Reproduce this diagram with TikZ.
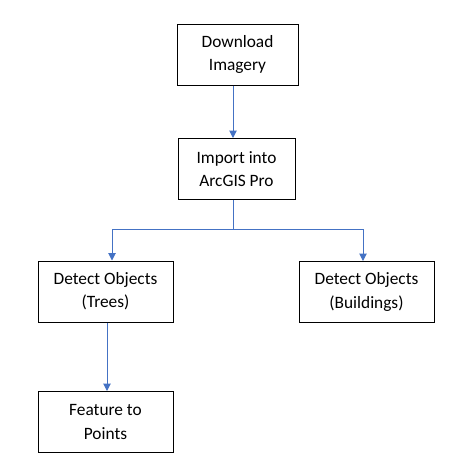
\documentclass[tikz,border=0pt]{standalone}
\usepackage{fontspec}
\setmainfont{Carlito}
\usetikzlibrary{arrows.meta}
\definecolor{arrowblue}{HTML}{4472C4}
\begin{document}
\begin{tikzpicture}[x=0.75pt,y=-0.75pt,
  box/.style={draw=black,line width=0.75pt,fill=white,minimum width=90.75pt,minimum height=45.75pt,inner sep=0pt,align=center,font=\fontsize{13pt}{17.5pt}\selectfont},
  wide/.style={minimum width=101.25pt},
  conn/.style={draw=arrowblue,line width=0.75pt},
  arr/.style={conn,-{Triangle[width=5.5pt,length=5.5pt]}}]
\useasboundingbox (0,0) rectangle (450,468);
\node[box] (dl) at (237.5,54.5) {Download\\Imagery};
\node[box,minimum width=87.75pt] (imp) at (236.5,169) {Import into\\ArcGIS Pro};
\node[box,wide] (trees) at (105.5,291.5) {Detect Objects\\(Trees)};
\node[box,wide] (bld) at (366.5,292) {Detect Objects\\(Buildings)};
\node[box,wide] (fp) at (105.5,422) {Feature to\\Points};
\coordinate (split) at (233,229);
\draw[arr] (dl.south -| 233,0) -- (imp.north -| 233,0);
\draw[conn] (imp.south -| split) -- (split);
\draw[arr] (split) -| (112,0 |- trees.north);
\draw[arr] (split) -| (363,0 |- bld.north);
\draw[arr] (107,0 |- trees.south) -- (107,0 |- fp.north);
\end{tikzpicture}
\end{document}
